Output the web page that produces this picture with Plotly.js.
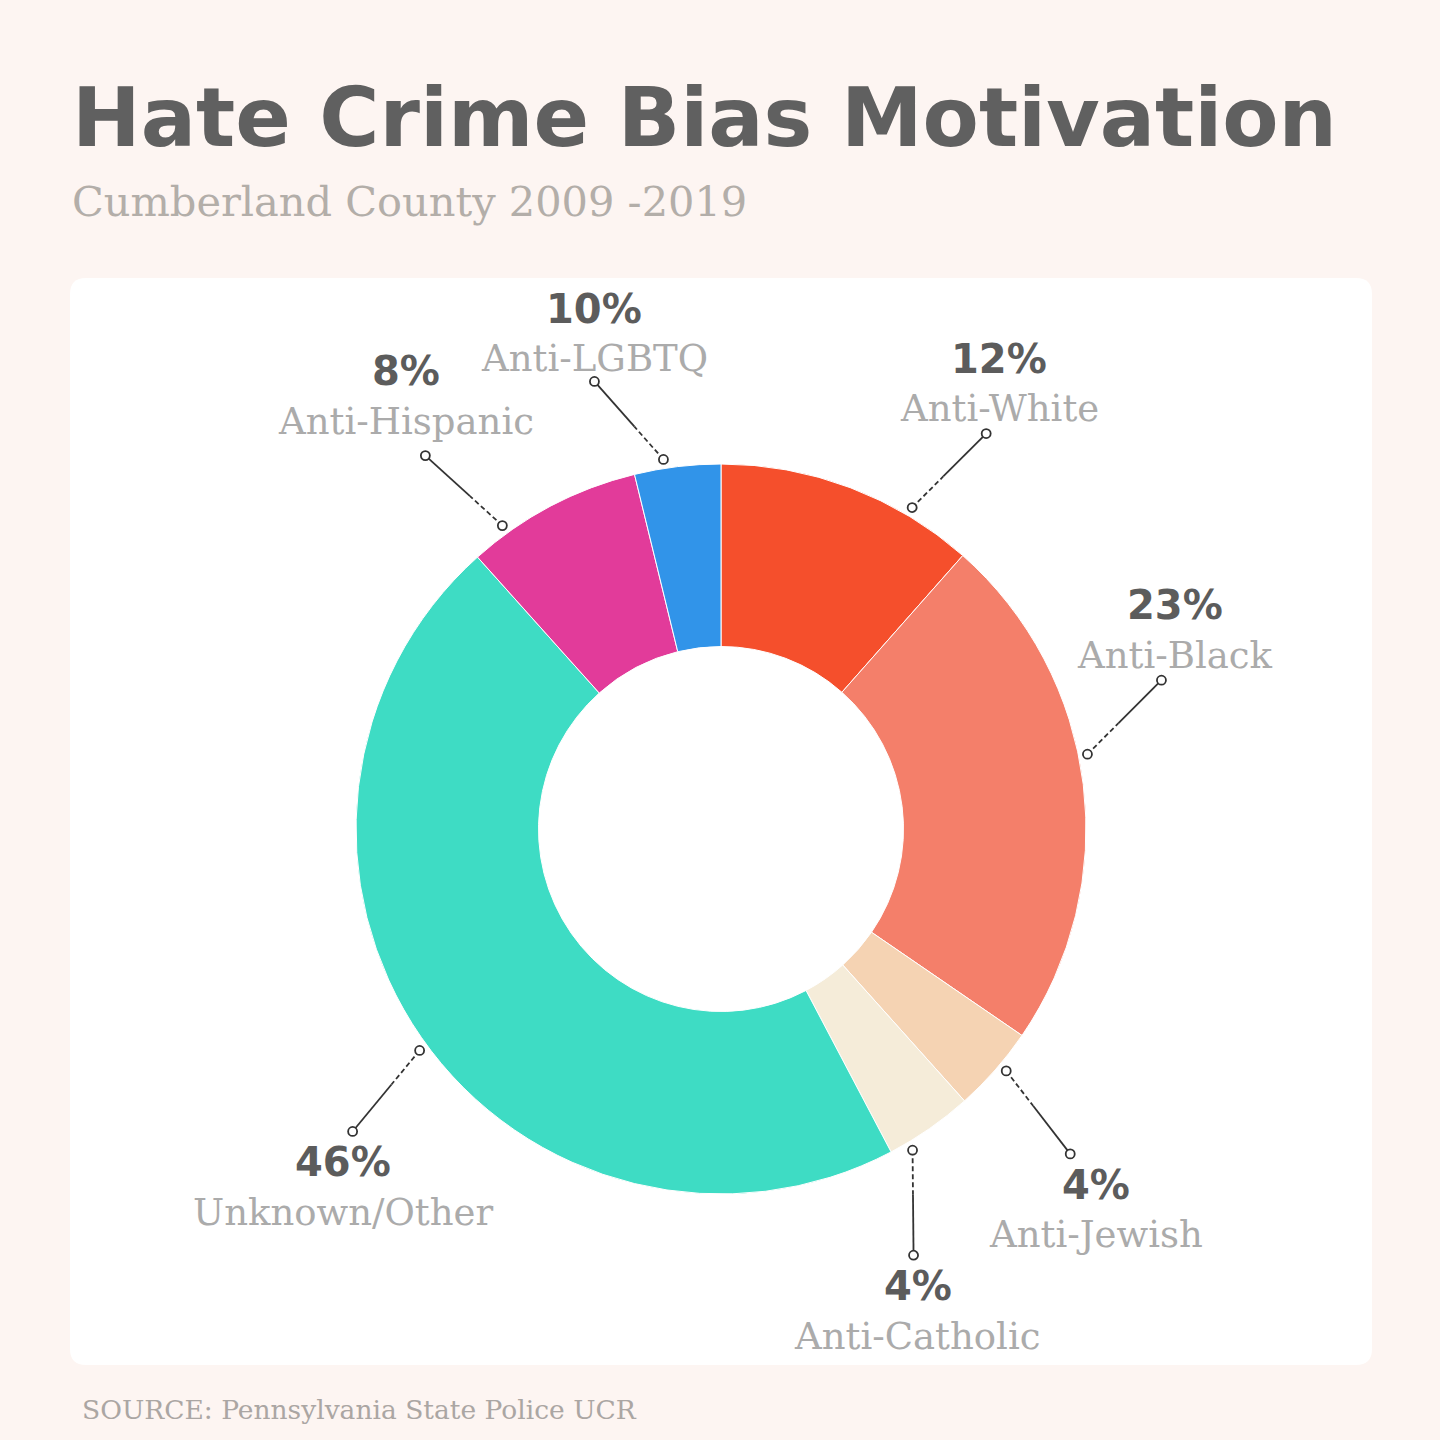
<!DOCTYPE html>
<html>
<head>
<meta charset="utf-8">
<script src="https://cdn.plot.ly/plotly-3.0.1.min.js"></script>
<style>html,body{margin:0;padding:0;background:#FDF5F2;}#chart{width:1440px;height:1440px;}</style>
</head>
<body>
<div id="chart"></div>
<script>
// ---- data ----
const categories = ['Anti-White', 'Anti-Black', 'Anti-Jewish', 'Anti-Catholic', 'Unknown/Other', 'Anti-Hispanic', 'Anti-LGBTQ'];
const sliceValues = [11.5, 23, 3.8, 3.9, 46, 7.8, 3.8];
const pctLabels = ['12%', '23%', '4%', '4%', '46%', '8%', '10%'];
const titleText = 'Hate Crime Bias Motivation';
const subtitleText = 'Cumberland County 2009 -2019';
const sourceText = 'SOURCE: Pennsylvania State Police UCR';

// ---- styles / label layout ----
const sliceColors = ['#F54F2C', '#F47F6A', '#F5D3B3', '#F5ECD9', '#3EDCC4', '#E23B9A', '#3194E9'];
const anchorOffsetDeg = [10, -4.5, -1, 4, -1.5, -8, -2];
const leaderVec = [[74, -74], [74, -74], [64, 83], [1, 105], [-67, 81], [-77, -70], [-69, -78]];
const textDy = [[-75, -25], [-75, -25], [31, 81], [31, 81], [31, 81], [-85, -34], [-72, -23]];
const textDx = [13, 14, 26, 4, -10, -19, 0];

const W = 1440, H = 1440;
const cx = 721, cy = 829, R = 365, HOLE = 0.5, anchorR = 374;
const px = x => x / W, py = y => 1 - y / H;

const total = sliceValues.reduce((a, b) => a + b, 0);
let cum = 0;
const shapes = [];
const annotations = [];

// white panel
(function () {
  const x0 = px(70), x1 = px(1372), y0 = py(1365), y1 = py(278), rx = 16 / W, ry = 16 / H;
  shapes.push({
    type: 'path', xref: 'paper', yref: 'paper', layer: 'below',
    path: `M ${x0 + rx} ${y0} L ${x1 - rx} ${y0} Q ${x1} ${y0} ${x1} ${y0 + ry} L ${x1} ${y1 - ry} Q ${x1} ${y1} ${x1 - rx} ${y1} L ${x0 + rx} ${y1} Q ${x0} ${y1} ${x0} ${y1 - ry} L ${x0} ${y0 + ry} Q ${x0} ${y0} ${x0 + rx} ${y0} Z`,
    fillcolor: '#FFFFFF', line: {width: 0}
  });
})();

sliceValues.forEach((v, i) => {
  const mid = (cum + v / 2) / total * 360;
  cum += v;
  const a = (mid + anchorOffsetDeg[i]) * Math.PI / 180;
  const ix = cx + anchorR * Math.sin(a), iy = cy - anchorR * Math.cos(a);
  const ox = ix + leaderVec[i][0], oy = iy + leaderVec[i][1];
  const mx = ix + (ox - ix) * 0.42, my = iy + (oy - iy) * 0.42;
  shapes.push({type: 'line', xref: 'paper', yref: 'paper', x0: px(ix), y0: py(iy), x1: px(mx), y1: py(my),
    line: {color: '#333333', width: 1.8, dash: '5px,3px'}});
  shapes.push({type: 'line', xref: 'paper', yref: 'paper', x0: px(mx), y0: py(my), x1: px(ox), y1: py(oy),
    line: {color: '#333333', width: 1.8}});
  [[ix, iy], [ox, oy]].forEach(([x, y]) => {
    shapes.push({type: 'circle', xref: 'paper', yref: 'paper',
      x0: px(x - 4.5), x1: px(x + 4.5), y0: py(y + 4.5), y1: py(y - 4.5),
      fillcolor: '#FFFFFF', line: {color: '#333333', width: 1.8}});
  });
  annotations.push({xref: 'paper', yref: 'paper', x: px(ox + textDx[i]), y: py(oy + textDy[i][0]),
    xanchor: 'center', yanchor: 'middle', showarrow: false, text: pctLabels[i],
    font: {family: 'DejaVu Sans', size: 40, color: '#5C5C5C', weight: 'bold'}});
  annotations.push({xref: 'paper', yref: 'paper', x: px(ox + textDx[i]), y: py(oy + textDy[i][1]),
    xanchor: 'center', yanchor: 'middle', showarrow: false, text: categories[i],
    font: {family: 'DejaVu Serif', size: 37, color: '#ABABAB'}});
});

annotations.push({xref: 'paper', yref: 'paper', x: px(70), y: py(117), xanchor: 'left', yanchor: 'middle',
  showarrow: false, text: titleText, font: {family: 'DejaVu Sans', size: 82, color: '#606060', weight: 'bold'}});
annotations.push({xref: 'paper', yref: 'paper', x: px(70), y: py(202), xanchor: 'left', yanchor: 'middle',
  showarrow: false, text: subtitleText, font: {family: 'DejaVu Serif', size: 41.5, color: '#B3AEA9'}});
annotations.push({xref: 'paper', yref: 'paper', x: px(80), y: py(1409), xanchor: 'left', yanchor: 'middle',
  showarrow: false, text: sourceText, font: {family: 'DejaVu Serif', size: 26.5, color: '#ABA6A3'}});

const trace = {
  type: 'pie', labels: categories, values: sliceValues, hole: HOLE, sort: false,
  direction: 'clockwise', rotation: 0, textinfo: 'none', hoverinfo: 'label+percent',
  marker: {colors: sliceColors, line: {color: '#FFFFFF', width: 1}},
  domain: {x: [px(cx - R), px(cx + R)], y: [py(cy + R), py(cy - R)]},
  showlegend: false
};

Plotly.newPlot('chart', [trace], {
  width: W, height: H, margin: {l: 0, r: 0, t: 0, b: 0},
  paper_bgcolor: '#FDF5F2', plot_bgcolor: '#FDF5F2',
  shapes: shapes, annotations: annotations, showlegend: false
}, {displayModeBar: false, staticPlot: true});
</script>
</body>
</html>
